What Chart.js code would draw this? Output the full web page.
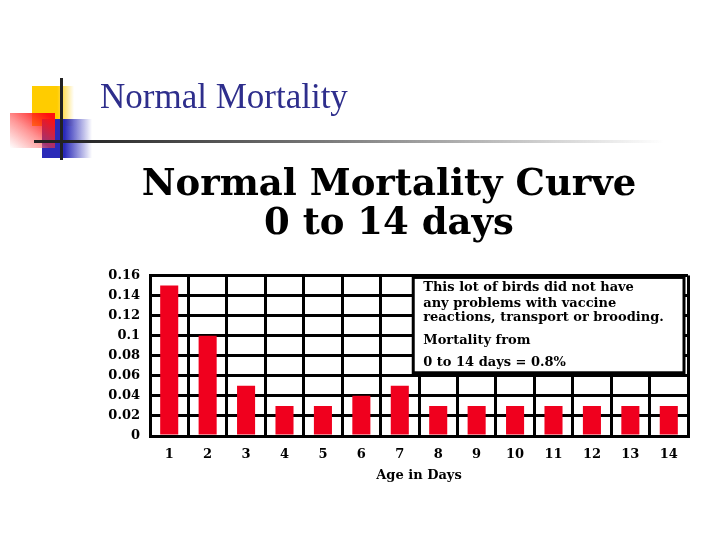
<!DOCTYPE html>
<html>
<head>
<meta charset="utf-8">
<script src="https://cdn.jsdelivr.net/npm/chart.js@4/dist/chart.umd.min.js"></script>
<style>
  body { margin: 0; background: #fff; }
  #wrap { position: relative; width: 720px; height: 540px; overflow: hidden; }
  #chart { position: absolute; left: 0; top: 0; }
  .deco { position: absolute; }
  #yellow { left: 32px; top: 86px; width: 42px; height: 40px; background: linear-gradient(to right, #ffcc00 60%, rgba(255,204,0,0)); }
  #blue { left: 42px; top: 119px; width: 50px; height: 39px; background: linear-gradient(to right, #2a2ab8 45%, rgba(42,42,184,0)); }
  #red { left: 10px; top: 113px; width: 45px; height: 35px; background: linear-gradient(to bottom left, #ff1010 10%, rgba(255,60,60,0.55) 55%, rgba(255,255,255,0.9)); }
  #vline { left: 60px; top: 78px; width: 3px; height: 82px; background: #222; }
  #hline { left: 34px; top: 140px; width: 630px; height: 3px; background: linear-gradient(to right, #222 5%, #777 45%, rgba(255,255,255,0)); }
  #slideTitle { position: absolute; left: 100px; top: 77px; font-family: "Liberation Serif", serif; font-size: 35px; color: #2e2e8c; white-space: nowrap; }
</style>
</head>
<body>
<div id="wrap">
  <canvas id="chart" width="720" height="540"></canvas>
  <div class="deco" id="yellow"></div>
  <div class="deco" id="blue"></div>
  <div class="deco" id="red"></div>
  <div class="deco" id="hline"></div>
  <div class="deco" id="vline"></div>
  <div id="slideTitle">Normal Mortality</div>
</div>
<script>
// data

const days = ['1', '2', '3', '4', '5', '6', '7', '8', '9', '10', '11', '12', '13', '14']
const mortality = [0.15, 0.10, 0.05, 0.03, 0.03, 0.04, 0.05, 0.03, 0.03, 0.03, 0.03, 0.03, 0.03, 0.03]
const yTickLabels = ['0', '0.02', '0.04', '0.06', '0.08', '0.1', '0.12', '0.14', '0.16']
const noteLines = [
  'This lot of birds did not have',
  'any problems with vaccine',
  'reactions, transport or brooding.',
  'Mortality from',
  '0 to 14 days = 0.8%'
]

const serif = '"DejaVu Serif", "Liberation Serif", serif'

// note box over the right side of the plot
const noteBox = {
  id: 'noteBox',
  afterDraw(chart) {
    const c = chart.ctx
    const x = chart.scales.x
    const y = chart.scales.y
    const left = x.getPixelForValue(6.35)
    const right = chart.chartArea.right - 4
    const top = chart.chartArea.top + 2
    const bottom = y.getPixelForValue(0.063)
    c.save()
    c.fillStyle = '#fff'
    c.fillRect(left, top, right - left, bottom - top)
    c.lineWidth = 3
    c.strokeStyle = '#000'
    c.strokeRect(left, top, right - left, bottom - top)
    c.fillStyle = '#000'
    c.font = 'bold 13px ' + serif
    c.textBaseline = 'middle'
    const rows = [10, 26, 40, 63, 85]
    noteLines.forEach((t, i) => c.fillText(t, left + 10, top + rows[i]))
    c.restore()
  }
}

new Chart(document.getElementById('chart'), {
  type: 'bar',
  data: {
    labels: days,
    datasets: [
      {
        label: 'Mortality',
        data: mortality,
        backgroundColor: '#f0001e',
        borderWidth: 0,
        barPercentage: 0.47,
        categoryPercentage: 1,
      },
    ],
  },
  options: {
    responsive: false,
    animation: false,
    layout: {
      padding: { left: 90, right: 32, top: 0, bottom: 50 }
    },
    plugins: {
      legend: { display: false },
      tooltip: { enabled: false },
      title: {
        display: true,
        text: ['Normal Mortality Curve', '0 to 14 days'],
        color: '#000',
        font: { family: serif, size: 37, weight: 'bold', lineHeight: 1.06 },
        padding: { top: 166, bottom: 31 },
      },
    },
    scales: {
      x: {
        afterFit: (scale) => { scale.height = 54 },
        grid: { color: '#000', lineWidth: 3, drawTicks: false },
        border: { color: '#000', width: 3 },
        ticks: { color: '#000', padding: 11, font: { family: serif, size: 13, weight: 'bold' } },
        title: {
          display: true,
          text: 'Age in Days',
          color: '#000',
          font: { family: serif, size: 13, weight: 'bold' },
          padding: { top: 0, bottom: 7 },
        },
      },
      y: {
        min: 0,
        max: 0.16,
        afterFit: (scale) => { scale.width = 60 },
        grid: { color: '#000', lineWidth: 3, drawTicks: false },
        border: { color: '#000', width: 3 },
        ticks: {
          stepSize: 0.02,
          color: '#000',
          padding: 10,
          font: { family: serif, size: 13, weight: 'bold' },
          callback: (v, i) => yTickLabels[i],
        },
      },
    },
  },
  plugins: [noteBox],
});
</script>
</body>
</html>
